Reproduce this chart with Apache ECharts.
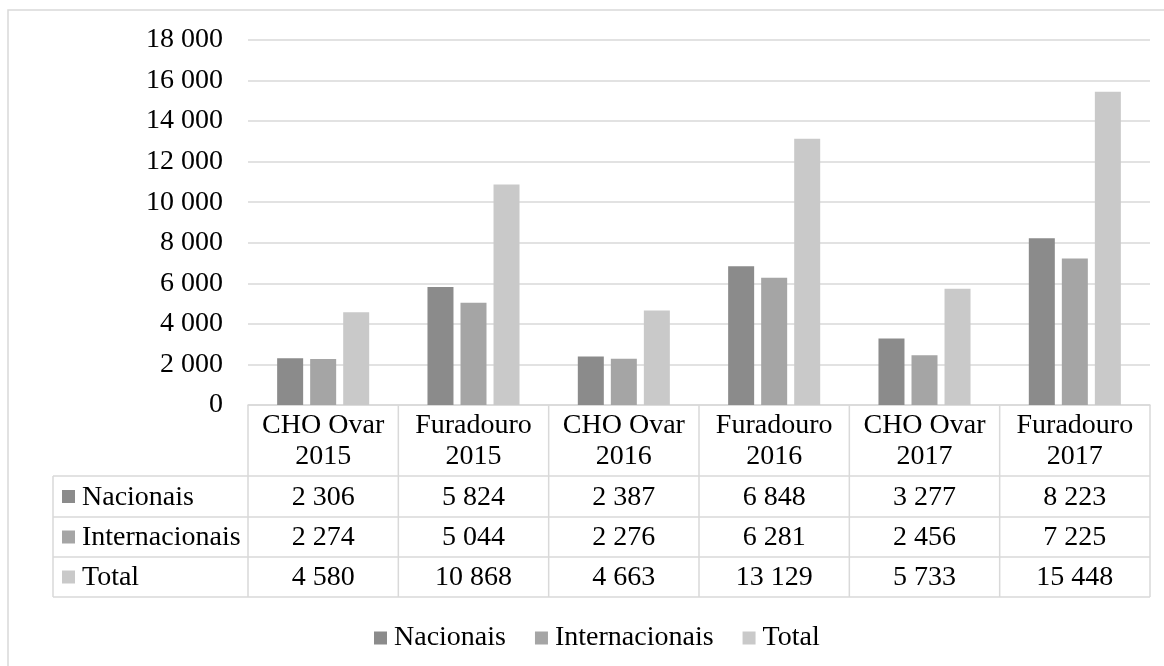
<!DOCTYPE html>
<html>
<head>
<meta charset="utf-8">
<script src="https://cdn.jsdelivr.net/npm/echarts@6/dist/echarts.min.js"></script>
<style>
  html, body { margin: 0; padding: 0; background: #fff; }
  #chart { width: 1164px; height: 666px; }
</style>
</head>
<body>
<div id="chart"></div>
<script>
// Categories (two-line headers) and series values
const categories = ['CHO Ovar\n2015', 'Furadouro\n2015', 'CHO Ovar\n2016', 'Furadouro\n2016', 'CHO Ovar\n2017', 'Furadouro\n2017'];
const seriesNames = ['Nacionais', 'Internacionais', 'Total'];
const nacionais = [2306, 5824, 2387, 6848, 3277, 8223];
const internacionais = [2274, 5044, 2276, 6281, 2456, 7225];
const total = [4580, 10868, 4663, 13129, 5733, 15448];
const seriesColors = ['#8b8b8b', '#a5a5a5', '#c9c9c9'];
const yTicks = { min: 0, max: 18000, interval: 2000 };

const FONT = '"Liberation Serif", "Times New Roman", serif';
const FS = 28;
const LINE = '#d9d9d9';
const TEXT = '#000000';

const fmt = v => String(v).replace(/\B(?=(\d{3})+(?!\d))/g, ' ');

const chart = echarts.init(document.getElementById('chart'), null, { renderer: 'canvas' });
const seriesData = [nacionais, internacionais, total];

chart.setOption({
  animation: false,
  backgroundColor: '#ffffff',
  grid: { left: 248, right: 14, top: 40, height: 365 },
  legend: {
    data: seriesNames,
    left: 369,
    top: 619,
    icon: 'rect',
    itemWidth: 13,
    itemHeight: 13,
    itemGap: 29,
    textStyle: { fontFamily: FONT, fontSize: FS, color: TEXT, padding: [0, 0, 0, 2] }
  },
  xAxis: {
    type: 'category',
    data: categories,
    axisLine: { show: true, lineStyle: { color: LINE, width: 1.5 } },
    axisTick: { show: false },
    axisLabel: {
      fontFamily: FONT, fontSize: FS, color: TEXT, lineHeight: 31,
      margin: 5, interval: 0
    }
  },
  yAxis: {
    type: 'value',
    min: yTicks.min, max: yTicks.max, interval: yTicks.interval,
    axisLine: { show: false },
    axisTick: { show: false },
    splitLine: { lineStyle: { color: LINE, width: 1.5 } },
    axisLabel: {
      fontFamily: FONT, fontSize: FS, color: TEXT, margin: 25,
      formatter: v => fmt(v)
    }
  },
  series: seriesNames.map((name, i) => ({
    name,
    type: 'bar',
    data: seriesData[i],
    barWidth: 26,
    barGap: '27%',
    itemStyle: { color: seriesColors[i] }
  }))
});

// Data table under the axis, built from the same arrays
function buildTable() {
  const c0 = chart.convertToPixel({ xAxisIndex: 0 }, 0);
  const c1 = chart.convertToPixel({ xAxisIndex: 0 }, 1);
  const band = c1 - c0;
  const left = c0 - band / 2;
  const right = left + band * categories.length;
  const top = chart.convertToPixel({ yAxisIndex: 0 }, 0);
  const rowTops = [top + 71, top + 112, top + 152, top + 192];
  const tableLeft = 53;
  const els = [];
  const line = (x1, y1, x2, y2) => els.push({
    type: 'line', silent: true,
    shape: { x1, y1, x2, y2 },
    style: { stroke: LINE, lineWidth: 1.5 }
  });
  // horizontal rules
  rowTops.forEach(y => line(tableLeft, y, right, y));
  // vertical rules
  line(tableLeft, rowTops[0], tableLeft, rowTops[3]);
  for (let i = 0; i <= categories.length; i++) {
    const x = left + i * band;
    line(x, top, x, rowTops[3]);
  }
  // rows
  seriesNames.forEach((name, r) => {
    const cy = (rowTops[r] + rowTops[r + 1]) / 2;
    els.push({
      type: 'rect', silent: true,
      shape: { x: 62, y: cy - 6.5, width: 13, height: 13 },
      style: { fill: seriesColors[r] }
    });
    els.push({
      type: 'text', silent: true,
      style: { text: name, x: 82, y: cy + 1, font: FS + 'px ' + FONT, fill: TEXT, align: 'left', verticalAlign: 'middle' }
    });
    seriesData[r].forEach((v, c) => {
      els.push({
        type: 'text', silent: true,
        style: { text: fmt(v), x: left + band * (c + 0.5), y: cy + 1, font: FS + 'px ' + FONT, fill: TEXT, align: 'center', verticalAlign: 'middle' }
      });
    });
  });
  // outer chart frame
  els.push({
    type: 'rect', silent: true,
    shape: { x: 8, y: 10, width: 1200, height: 720 },
    style: { fill: 'none', stroke: LINE, lineWidth: 1.5 }
  });
  chart.setOption({ graphic: els });
}
buildTable();
</script>
</body>
</html>
